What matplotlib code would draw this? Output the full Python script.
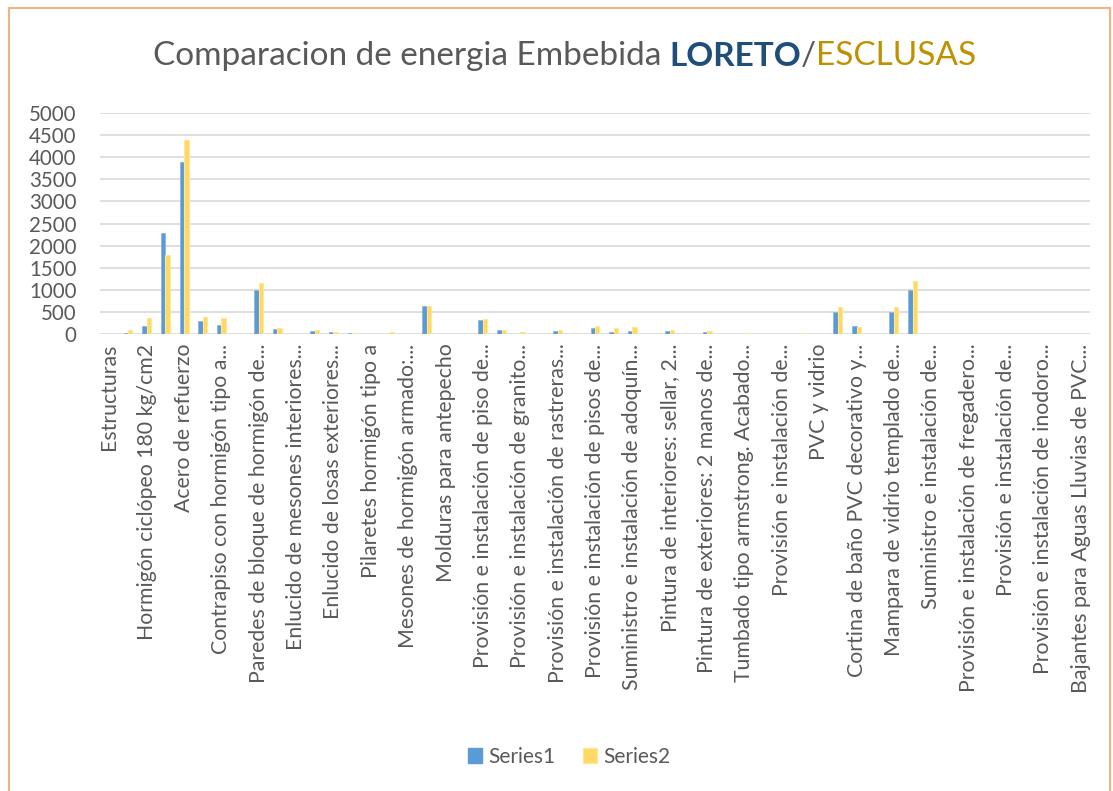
import matplotlib
matplotlib.use("Agg")
import matplotlib.pyplot as plt
from matplotlib.patches import Rectangle, Patch
import numpy as np

# Valores (53 partidas, la primera es el encabezado "Estructuras")
serie1 = [0, 25, 190, 2280, 3900, 295, 205, 0, 1000, 110,
          0, 70, 45, 20, 0, 0, 5, 625, 0, 0,
          315, 85, 5, 0, 70, 0, 145, 45, 65, 0,
          65, 0, 42, 0, 10, 0, 0, 10, 0, 495,
          170, 0, 495, 1000, 0, 0, 0, 0, 0, 0,
          0, 0, 0]
serie2 = [0, 100, 355, 1780, 4390, 375, 360, 0, 1155, 140,
          10, 100, 45, 20, 8, 35, 10, 640, 8, 0,
          330, 100, 45, 0, 90, 10, 180, 128, 158, 0,
          88, 10, 65, 0, 12, 0, 8, 12, 0, 610,
          160, 0, 610, 1200, 0, 0, 8, 8, 8, 8,
          8, 8, 8]

# Solo se ven las etiquetas de las partidas pares
etiquetas = [
    "Estructuras",
    "Hormigón ciclópeo 180 kg/cm2",
    "Acero de refuerzo",
    "Contrapiso con hormigón tipo a...",
    "Paredes de bloque de hormigón de...",
    "Enlucido de mesones interiores...",
    "Enlucido de losas exteriores...",
    "Pilaretes hormigón tipo a",
    "Mesones de hormigón armado:...",
    "Molduras para antepecho",
    "Provisión e instalación de piso de...",
    "Provisión e instalación de granito...",
    "Provisión e instalación de rastreras...",
    "Provisión e instalación de pisos de...",
    "Suministro e instalación de adoquín...",
    "Pintura de interiores: sellar, 2...",
    "Pintura de exteriores: 2 manos de...",
    "Tumbado tipo armstrong. Acabado...",
    "Provisión e instalación de...",
    "PVC y vidrio",
    "Cortina de baño PVC decorativo y...",
    "Mampara de vidrio templado de...",
    "Suministro e instalación de...",
    "Provisión e instalación de fregadero...",
    "Provisión e instalación de...",
    "Provisión e instalación de inodoro...",
    "Bajantes para Aguas Lluvias de PVC...",
]
nombres = ["Series1", "Series2"]

plt.rcParams['font.family'] = ['Lato', 'DejaVu Sans']
gris = "#595959"
azul = "#5B9BD5"
amarillo = "#FFD966"

fig = plt.figure(figsize=(11.13, 7.91), dpi=100)
ax = fig.add_axes([100/1113, 1-334/791, 990/1113, 221/791])

x = np.arange(len(serie1))
ancho = 0.239
ax.bar(x - ancho/2, serie1, ancho, color=azul, edgecolor="#8DB8E2", linewidth=0.6, zorder=3)
ax.bar(x + ancho/2, serie2, ancho, color=amarillo, edgecolor="#FFE699", linewidth=0.8, zorder=3)

ax.set_xlim(-0.5, len(serie1) - 0.5)
ax.set_ylim(0, 5000)
ax.set_yticks(np.arange(0, 5001, 500))
ax.set_xticks(x[::2])
ax.set_xticklabels(etiquetas, rotation=90, fontsize=15.3, color=gris)
ax.tick_params(axis='y', labelsize=14.8, labelcolor=gris, length=0, pad=17)
ax.tick_params(axis='x', length=0, pad=7)
ax.grid(axis='y', color="#D9D9D9", linewidth=1.2, zorder=0)
for s in ax.spines.values():
    s.set_visible(False)

# titulo en varios colores
fig.canvas.draw()
r = fig.canvas.get_renderer()
partes = [("Comparacion de energia Embebida ", gris, "normal"),
          ("LORETO", "#1F4E79", "bold"),
          ("/", gris, "normal"),
          ("ESCLUSAS", "#BF9000", "normal")]
textos = []
for t, c, w in partes:
    textos.append(fig.text(0, 1-56/791, t, color=c, fontsize=24, fontweight=w, va='center'))
anchos = [tx.get_window_extent(r).width for tx in textos]
xpos = (564.5 - sum(anchos)/2)
for tx, a in zip(textos, anchos):
    tx.set_x(xpos/1113)
    xpos += a

fig.legend(handles=[Patch(color=azul), Patch(facecolor=amarillo, edgecolor="#FFE699")],
           labels=nombres, loc='center', bbox_to_anchor=(569/1113, 1-757/791),
           ncol=2, frameon=False, fontsize=15, labelcolor=gris,
           handlelength=0.7, handleheight=0.7, handletextpad=0.3, columnspacing=1.3)

fig.add_artist(Rectangle((9/1113, -0.01), 1101/1113, 1.0, transform=fig.transFigure,
                         fill=False, edgecolor="#F4B183", linewidth=1.5))

fig.savefig("out.png", dpi=100)
